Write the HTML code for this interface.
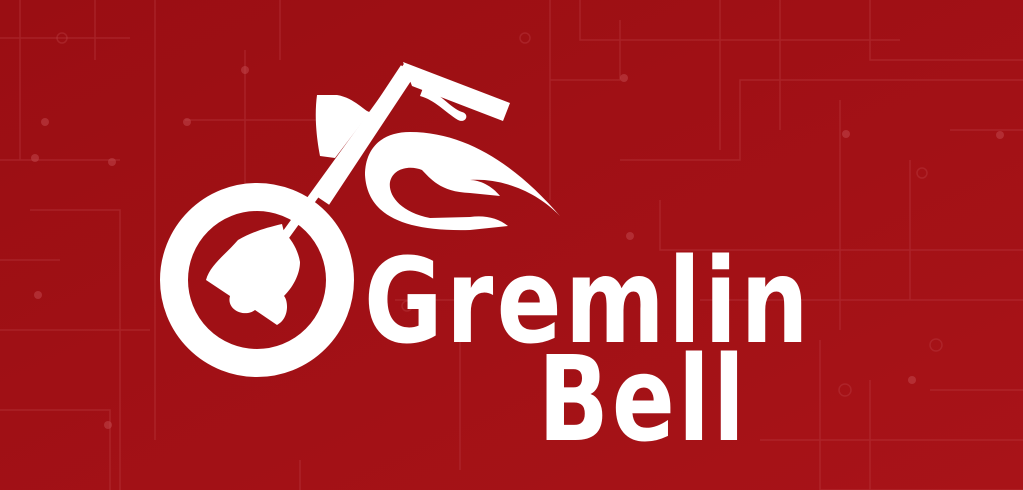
<!DOCTYPE html>
<html><head><meta charset="utf-8"><style>
html,body{margin:0;padding:0;width:1023px;height:490px;overflow:hidden;background:#a00f14}
svg{display:block}
</style></head><body>
<svg width="1023" height="490" viewBox="0 0 1023 490">
<defs><linearGradient id="bg" x1="0" y1="0" x2="1" y2="1"><stop offset="0" stop-color="#9a0e13"/><stop offset="1" stop-color="#a81318"/></linearGradient></defs>
<rect width="1023" height="490" fill="url(#bg)"/>
<g stroke="#c0454a" stroke-opacity="0.35" stroke-width="1.5" fill="none">
<path d="M0 38H130M20 0V160M95 0V60M155 0V440M0 160H120M30 210H120V490M0 260H60M0 330H150M0 410H110V490M245 50V210M280 0V60M185 120H330M300 460V490M395 300H460V470M550 0V200M550 80H620V20M580 0V40H900M620 160H740V80H1023M660 200V250H1023M720 0V150M780 0V130M840 100V330M870 0V60H1023M950 130H1023M910 160V300M700 300H1023M820 340V490H1023M760 440H1023M930 390H1023M870 380V490"/>
<circle cx="62" cy="38" r="5"/><circle cx="525" cy="38" r="5"/><circle cx="922" cy="173" r="5"/><circle cx="936" cy="345" r="6"/><circle cx="845" cy="390" r="6"/><circle cx="407" cy="306" r="5"/>
</g>
<g fill="#c34a4f" fill-opacity="0.5">
<circle cx="45" cy="122" r="4"/><circle cx="35" cy="158" r="4"/><circle cx="112" cy="162" r="4"/><circle cx="245" cy="70" r="4"/><circle cx="187" cy="122" r="4"/><circle cx="624" cy="78" r="4"/><circle cx="630" cy="236" r="4"/><circle cx="846" cy="134" r="4"/><circle cx="1000" cy="135" r="4"/><circle cx="912" cy="380" r="4"/><circle cx="108" cy="425" r="4"/><circle cx="38" cy="295" r="4"/>
</g>
<g fill="#fff">
<circle cx="257" cy="280" r="83" fill="none" stroke="#fff" stroke-width="28"/>
<line x1="282" y1="240" x2="408" y2="66" stroke="#fff" stroke-width="9"/>
<line x1="322" y1="200" x2="408" y2="70" stroke="#fff" stroke-width="17"/>
<path d="M403 62 L510 103 L503 121 L412 86 Z"/>
<path d="M423 88 C440 92 450 108 462 112 C470 114 466 124 458 120 C445 112 435 100 420 96 Z"/>
<path d="M317 95 L337 95 C355 98 365 112 370 112 L335 158 L320 156 C315 130 315 110 317 95 Z"/>
<path d="M282 224 C265 228 252 232 238 240 C225 255 210 265 206 280 L230 296 C226 310 245 318 255 310 L277 325 C290 318 288 300 284 296 C295 285 300 272 300 262 C298 250 292 240 284 232 Z"/>
<path d="M560 216 C520 170 470 132 410 132 C380 132 365 150 365 175 C367 210 395 232 470 230 L508 226 C498 218 485 215 470 217 L430 218 C400 212 388 195 390 182 C393 168 410 165 422 170 C430 178 440 192 470 193 L500 196 C492 186 480 180 470 180 C500 178 535 190 560 216 Z"/>
</g>
<g fill="#fff" font-family="'DejaVu Sans','Liberation Sans',sans-serif" font-weight="bold">
<text x="364" y="342" font-size="118" letter-spacing="4" textLength="448" lengthAdjust="spacingAndGlyphs">Gremlin</text>
<text x="538" y="440" font-size="118" letter-spacing="4" textLength="210" lengthAdjust="spacingAndGlyphs">Bell</text>
</g>
</svg>
</body></html>
